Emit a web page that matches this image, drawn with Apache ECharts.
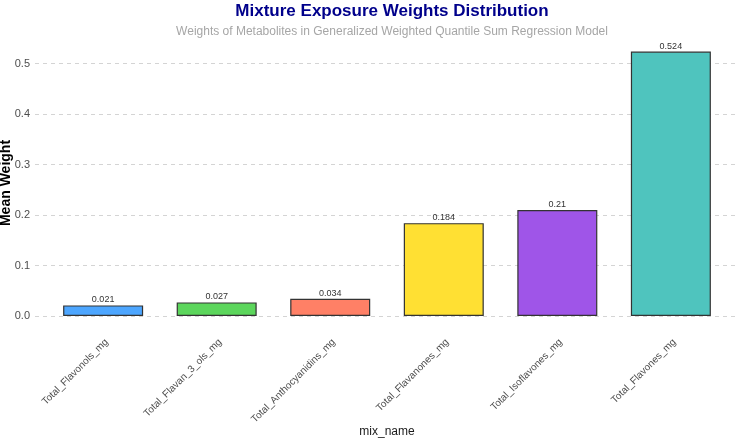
<!DOCTYPE html>
<html>
<head>
<meta charset="utf-8">
<script src="https://cdn.jsdelivr.net/npm/echarts@6/dist/echarts.min.js"></script>
<style>
  html, body { margin: 0; padding: 0; background: #ffffff; }
  #chart { width: 739px; height: 439px; }
</style>
</head>
<body>
<div id="chart"></div>
<script>
const categories = [
  'Total_Flavonols_mg',
  'Total_Flavan_3_ols_mg',
  'Total_Anthocyanidins_mg',
  'Total_Flavanones_mg',
  'Total_Isoflavones_mg',
  'Total_Flavones_mg'
];
const weights = [0.021, 0.027, 0.034, 0.184, 0.21, 0.524];
const barColors = ['#4da6ff', '#5cd65c', '#ff8066', '#ffe033', '#9f55e8', '#4fc4be'];
const yTicks = [0, 0.1, 0.2, 0.3, 0.4, 0.5];

const font = 'Liberation Sans, Arial, sans-serif';
const myChart = echarts.init(document.getElementById('chart'));

const option = {
  backgroundColor: '#ffffff',
  textStyle: { fontFamily: font },
  title: {
    text: 'Mixture Exposure Weights Distribution',
    subtext: 'Weights of Metabolites in Generalized Weighted Quantile Sum Regression Model',
    left: 387,
    textAlign: 'center',
    top: -2,
    itemGap: 6,
    textStyle: { color: '#00008b', fontSize: 17, fontWeight: 'bold', fontFamily: font },
    subtextStyle: { color: '#a6a6a6', fontSize: 12, fontFamily: font }
  },
  grid: { left: 35, right: 0, top: 41, bottom: 123, outerBoundsMode: 'none' },
  xAxis: {
    type: 'value',
    min: 0.4,
    max: 6.6,
    name: 'mix_name',
    nameLocation: 'middle',
    nameGap: 110,
    nameMoveOverlap: false,
    nameTextStyle: { color: '#1a1a1a', fontSize: 12 },
    axisLine: { show: false },
    axisTick: { show: false, customValues: [1, 2, 3, 4, 5, 6] },
    splitLine: { show: false },
    axisLabel: {
      customValues: [1, 2, 3, 4, 5, 6],
      formatter: (v) => categories[Math.round(v) - 1],
      rotate: 45,
      margin: 21,
      verticalAlign: 'top',
      color: '#4d4d4d',
      fontSize: 10
    }
  },
  yAxis: {
    type: 'value',
    min: 0,
    max: 0.545,
    interval: 0.1,
    name: 'Mean Weight',
    nameLocation: 'middle',
    nameGap: 22,
    nameMoveOverlap: false,
    nameTextStyle: { color: '#000000', fontSize: 14, fontWeight: 'bold', padding: [0, 9, 0, 0] },
    axisLine: { show: false },
    axisTick: { show: false },
    axisLabel: {
      color: '#4d4d4d',
      fontSize: 11,
      margin: 5,
      showMaxLabel: false,
      formatter: (v) => (yTicks.some(t => Math.abs(t - v) < 1e-9) ? v.toFixed(1) : '')
    },
    splitLine: {
      show: true,
      showMaxLine: false,
      lineStyle: { color: '#d4d4d4', width: 1, type: [4, 4] }
    }
  },
  series: [
    {
      type: 'bar',
      barWidth: 80,
      data: weights.map((w, i) => ({
        value: [i + 1, w],
        itemStyle: { color: barColors[i], borderColor: '#333333', borderWidth: 1.2 }
      })),
      label: {
        show: true,
        position: 'top',
        distance: 1,
        color: '#333333',
        fontSize: 9,
        formatter: (p) => String(p.value[1])
      }
    }
  ]
};

myChart.setOption(option);
</script>
</body>
</html>
